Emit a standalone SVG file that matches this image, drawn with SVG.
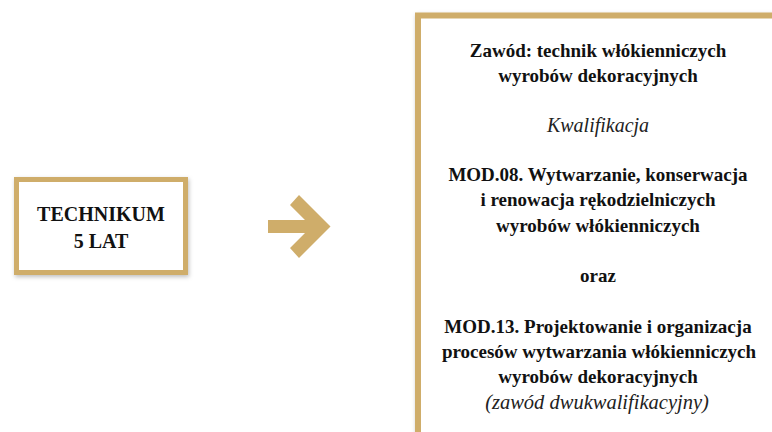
<svg xmlns="http://www.w3.org/2000/svg" width="772" height="432" viewBox="0 0 772 432">
<style>
.box{fill:#ffffff;stroke:#CFAD6A;}
.b{font-family:"Liberation Serif","Times New Roman",serif;font-weight:bold;fill:#111;text-anchor:middle;}
.i{font-family:"Liberation Serif","Times New Roman",serif;font-style:italic;fill:#222;text-anchor:middle;}
</style>
<defs>
<filter id="sh" x="-10%" y="-10%" width="130%" height="140%">
<feDropShadow dx="1" dy="2" stdDeviation="2" flood-color="#000" flood-opacity="0.25"/>
</filter>
</defs>
<rect width="772" height="432" fill="#ffffff"/>
<g id="node-technikum">
<rect class="box" x="16.5" y="179.5" width="169" height="93" stroke-width="5" filter="url(#sh)"/>
<text class="b" x="101" y="221" font-size="20">TECHNIKUM</text>
<text class="b" x="101" y="248" font-size="20">5 LAT</text>
</g>
<g id="connectors">
<polygon fill="#CFAD6A" points="268,220 305,220 290,205 299,195 330.5,226.5 299,258 290,248 305,233 268,233"/>
</g>
<g id="node-zawod">
<rect class="box" x="418" y="15.5" width="420" height="500" stroke-width="6" filter="url(#sh)"/>
<text class="b" x="598" y="57" font-size="19">Zawód: technik włókienniczych</text>
<text class="b" x="598" y="82" font-size="19">wyrobów dekoracyjnych</text>
<text class="i" x="598" y="132" font-size="20">Kwalifikacja</text>
<text class="b" x="598" y="181" font-size="19">MOD.08. Wytwarzanie, konserwacja</text>
<text class="b" x="598" y="206" font-size="19">i renowacja rękodzielniczych</text>
<text class="b" x="598" y="232" font-size="19">wyrobów włókienniczych</text>
<text class="b" x="598" y="282" font-size="19">oraz</text>
<text class="b" x="598" y="333" font-size="19">MOD.13. Projektowanie i organizacja</text>
<text class="b" x="599" y="358" font-size="19">procesów wytwarzania włókienniczych</text>
<text class="b" x="598" y="383" font-size="19">wyrobów dekoracyjnych</text>
<text class="i" x="597" y="409" font-size="20.5">(zawód dwukwalifikacyjny)</text>
</g>
</svg>
